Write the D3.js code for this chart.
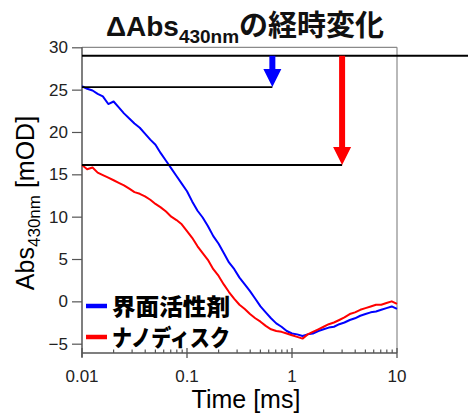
<!DOCTYPE html>
<html><head><meta charset="utf-8">
<script src="https://cdn.jsdelivr.net/npm/d3@7/dist/d3.min.js"></script>
<style>body{margin:0;background:#fff}svg{display:block}</style>
</head><body><svg id="c" width="468" height="415"></svg>
<script>
const times = [0.01,0.0112,0.0126,0.0141,0.0158,0.0178,0.02,0.0224,0.0251,0.0282,0.0316,0.0355,0.0398,0.0447,0.0501,0.0562,0.0631,0.0708,0.0794,0.0891,
0.1,0.112,0.126,0.141,0.158,0.178,0.2,0.224,0.251,0.282,0.316,0.355,0.398,0.447,0.501,0.562,0.631,0.708,0.794,0.891,
1,1.12,1.26,1.41,1.58,1.78,2,2.24,2.51,2.82,3.16,3.55,3.98,4.47,5.01,5.62,6.31,7.08,7.94,8.91,10];
const surfactant = [25.4,25.1,24.9,24.5,24.2,23.3,23.6,22.9,22.2,21.6,21.0,20.5,19.8,19.1,18.5,17.5,16.6,15.7,14.8,13.9,
13.0,11.8,10.7,9.9,8.9,7.7,6.8,5.7,4.6,3.8,2.8,2.0,1.2,0.3,-0.6,-1.3,-2.0,-2.6,-3.0,-3.5,
-3.8,-3.9,-4.1,-3.9,-3.8,-3.5,-3.3,-3.1,-3.0,-2.7,-2.5,-2.2,-2.0,-1.7,-1.5,-1.3,-1.2,-1.0,-0.8,-0.6,-0.9];
const nanodisc = [16.1,15.6,15.8,15.2,14.9,14.6,14.3,14.0,13.7,13.3,12.9,12.7,12.4,12.0,11.5,11.1,10.6,10.0,9.6,9.1,
8.3,7.5,6.5,5.7,4.9,3.8,3.0,2.0,1.1,0.3,-0.4,-0.9,-1.5,-2.0,-2.4,-2.9,-3.3,-3.5,-3.6,-3.8,
-4.0,-4.2,-4.4,-3.9,-3.6,-3.3,-3.0,-2.7,-2.5,-2.2,-1.9,-1.5,-1.3,-1.0,-0.8,-0.6,-0.4,-0.4,-0.2,0.0,-0.3];
const seriesNames = ["界面活性剤","ナノディスク"];
const seriesColors = ["#0000ff","#ff0000"];
const topLevel = 29;
const startLevels = [25.3, 16.1];
const arrowTimes = [0.65, 3.0];
const yTicks = [30,25,20,15,10,5,0,-5];
const xTicks = [0.01,0.1,1,10];
const xTickLabels = ["0.01","0.1","1","10"];

const svg = d3.select("#c");
const x = d3.scaleLog().domain([0.01,10]).range([82,397]);
const y = d3.scaleLinear().domain([-6.1,30]).range([353,47.3]);
const F = "'Liberation Sans', Arial, sans-serif";
const JP = "'Noto Sans CJK JP', sans-serif";

// frame (top/right)
svg.append("line").attr("x1",82).attr("x2",397).attr("y1",y(30)).attr("y2",y(30)).attr("stroke","#8a8a8a").attr("stroke-width",1.2);
svg.append("line").attr("x1",397).attr("x2",397).attr("y1",y(30)).attr("y2",353).attr("stroke","#8a8a8a").attr("stroke-width",1.2);

// y axis
const ya = svg.append("g").attr("transform","translate(82,0)")
  .call(d3.axisLeft(y).tickValues(yTicks).tickSize(10).tickPadding(4).tickFormat(d3.format("d")));
ya.select(".domain").remove();
ya.append("line").attr("x1",0).attr("x2",0).attr("y1",y(30)).attr("y2",357).attr("stroke","#555").attr("stroke-width",1.5);
ya.selectAll(".tick line").attr("stroke","#555").attr("stroke-width",1.2);
ya.selectAll(".tick text").attr("font-family",F).attr("font-size",17).attr("fill","#222");

// x axis
const xa = svg.append("g").attr("transform","translate(0,353)");
xa.append("line").attr("x1",82).attr("x2",397).attr("y1",0).attr("y2",0).attr("stroke","#555").attr("stroke-width",1.5);
const minor = [];
[0.01,0.1,1].forEach(d=>{for(let k=2;k<=9;k++) minor.push(d*k);});
xa.selectAll(".mn").data(minor).join("line").attr("x1",d=>x(d)).attr("x2",d=>x(d)).attr("y1",0).attr("y2",-3.5).attr("stroke","#555").attr("stroke-width",1.2);
xa.selectAll(".mj").data(xTicks).join("line").attr("x1",d=>x(d)).attr("x2",d=>x(d)).attr("y1",5).attr("y2",-5).attr("stroke","#555").attr("stroke-width",1.3);
xa.selectAll(".tl").data(xTicks).join("text").attr("x",d=>x(d)).attr("y",29).attr("text-anchor","middle")
  .attr("font-family",F).attr("font-size",17).attr("fill","#222").text((d,i)=>xTickLabels[i]);

// series
const line = d3.line().x((d,i)=>x(times[i])).y(d=>y(d));
[surfactant, nanodisc].forEach((s,i)=>{
  svg.append("path").datum(s).attr("d",line).attr("fill","none").attr("stroke",seriesColors[i]).attr("stroke-width",2).attr("stroke-linejoin","round");
});

// reference lines
svg.append("line").attr("x1",82).attr("x2",468).attr("y1",y(topLevel)).attr("y2",y(topLevel)).attr("stroke","#000").attr("stroke-width",2);
startLevels.forEach((lv,i)=>{
  svg.append("line").attr("x1",82).attr("x2",x(arrowTimes[i])).attr("y1",y(lv)).attr("y2",y(lv)).attr("stroke","#000").attr("stroke-width",1.8);
});
// arrows
startLevels.forEach((lv,i)=>{
  const ax = x(arrowTimes[i]), y0 = y(topLevel), y1 = y(lv), hl = 18, hw = 9, sw = 3;
  svg.append("path").attr("fill",seriesColors[i])
    .attr("d",`M${ax-sw},${y0}L${ax+sw},${y0}L${ax+sw},${y1-hl}L${ax+hw},${y1-hl}L${ax},${y1}L${ax-hw},${y1-hl}L${ax-sw},${y1-hl}Z`);
});

// legend
seriesNames.forEach((n,i)=>{
  const ly = 306 + i*31;
  svg.append("line").attr("x1",86).attr("x2",107).attr("y1",ly).attr("y2",ly).attr("stroke",seriesColors[i]).attr("stroke-width",4.5);
  svg.append("text").attr("x",112).attr("y",ly+8.5).attr("font-family",JP).attr("font-weight",900).attr("font-size",23)
    .attr("textLength",118).attr("lengthAdjust","spacingAndGlyphs").attr("fill","#000").text(n);
});

// title
const t = svg.append("text").attr("x",245).attr("y",36).attr("text-anchor","middle").attr("font-weight","bold").attr("fill","#111");
t.append("tspan").attr("font-family",F).attr("font-size",28).text("ΔAbs");
t.append("tspan").attr("font-family",F).attr("font-size",19).attr("dy",7).text("430nm");
t.append("tspan").attr("font-family",JP).attr("font-size",29).attr("dy",-7).text("の経時変化");

// axis labels
svg.append("text").attr("x",246).attr("y",408).attr("text-anchor","middle").attr("font-family",F).attr("font-size",25).attr("fill","#000").text("Time [ms]");
const yl = svg.append("text").attr("transform","translate(34,203) rotate(-90)").attr("text-anchor","middle").attr("font-family",F).attr("font-size",25).attr("fill","#000");
yl.append("tspan").text("Abs");
yl.append("tspan").attr("font-size",17).attr("dy",6).text("430nm");
yl.append("tspan").attr("dy",-6).text(" [mOD]");
</script></body></html>
